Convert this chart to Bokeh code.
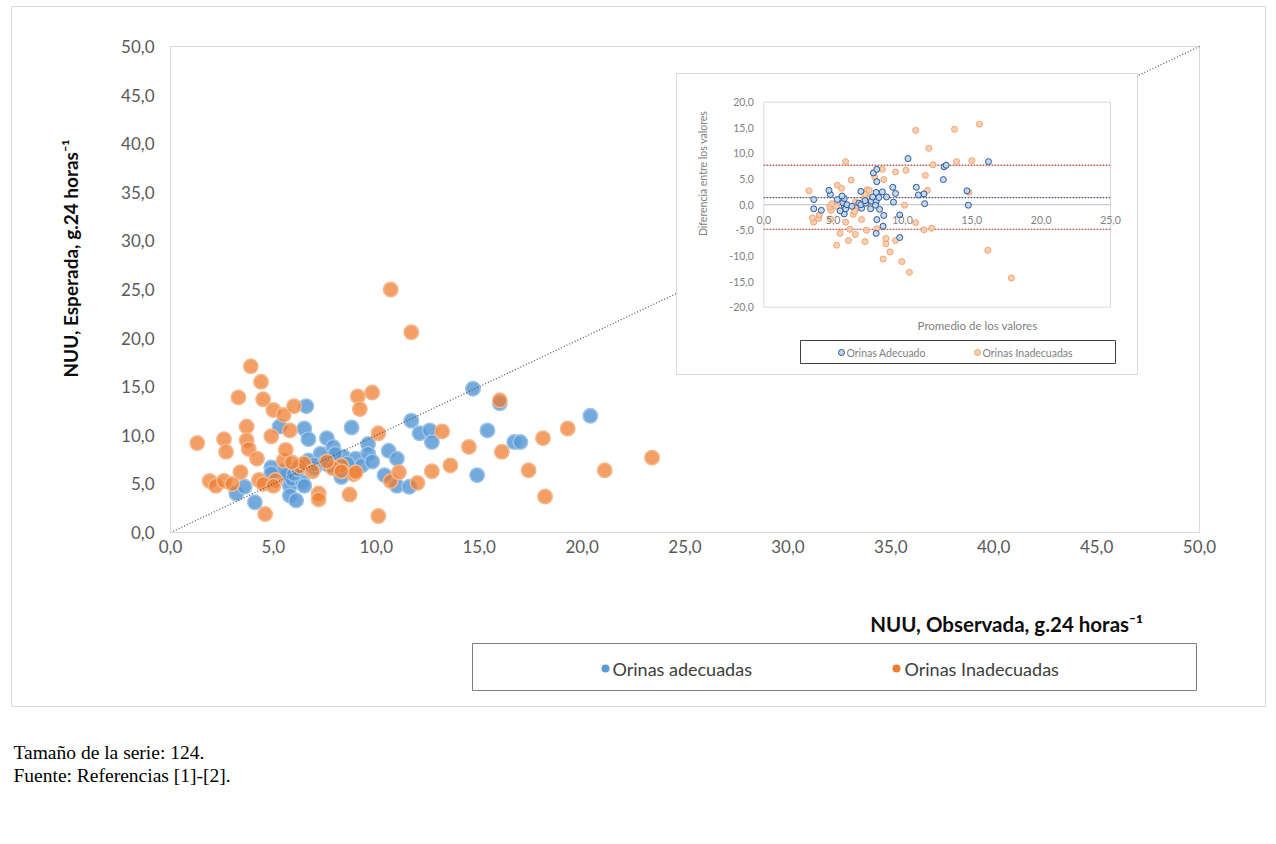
import math
from bokeh.plotting import figure
from bokeh.models import Range1d, FixedTicker
from bokeh.core.properties import value
from bokeh.embed import file_html
from bokeh.resources import INLINE

# ---------------- data ----------------
series_names = ["Orinas adecuadas", "Orinas Inadecuadas"]
inset_series_names = ["Orinas Adecuado", "Orinas Inadecuadas"]

adec_obs = [3.2, 3.6, 4.1, 4.9, 5.3, 5.7, 5.8, 5.8, 6.1, 5.9, 6.4, 6.5, 6.6, 6.7, 6.7, 7.0, 6.5,
            7.3, 7.6, 7.9, 8.1, 8.4, 8.3, 8.8, 9.0, 9.3, 9.6, 9.6, 10.4, 10.6, 11.0, 11.0, 11.6,
            11.7, 12.1, 12.6, 12.7, 14.7, 15.4, 14.9, 16.7, 17.0, 20.4, 16.0, 5.5, 6.0, 6.2, 7.0,
            7.5, 7.7, 8.0, 8.6, 4.9, 9.8]
adec_exp = [4.0, 4.7, 3.1, 6.7, 10.9, 5.9, 4.8, 3.8, 3.3, 5.5, 5.2, 10.7, 13.0, 9.6, 7.4, 6.7, 4.8,
            8.1, 9.7, 8.8, 7.4, 7.8, 5.7, 10.8, 7.6, 6.9, 9.1, 8.1, 5.9, 8.4, 7.6, 4.8, 4.7,
            11.5, 10.2, 10.5, 9.3, 14.8, 10.5, 5.9, 9.3, 9.3, 12.0, 13.3, 6.3, 6.0, 6.5, 7.0,
            7.2, 6.9, 8.1, 7.1, 6.1, 7.3]

inad_obs = [1.3, 1.9, 2.2, 2.6, 2.6, 2.7, 3.3, 3.4, 3.7, 3.7, 3.8, 3.9, 4.2, 4.3, 4.4, 4.5, 4.6,
            5.0, 4.9, 5.1, 5.5, 5.5, 5.6, 5.8, 6.0, 6.3, 6.5, 7.2, 7.2, 8.3, 8.7, 8.9, 9.1, 9.8,
            9.2, 9.0, 10.1, 10.1, 10.7, 11.7, 10.7, 11.1, 12.0, 12.7, 13.2, 13.6, 14.5, 16.0,
            16.1, 17.4, 18.1, 18.2, 19.3, 21.1, 23.4, 5.9, 7.9, 6.9, 4.5, 5.0, 3.0, 7.6, 8.3]
inad_exp = [9.2, 5.3, 4.8, 5.3, 9.6, 8.3, 13.9, 6.2, 10.9, 9.5, 8.6, 17.1, 7.6, 5.4, 15.5, 13.7, 1.9,
            12.6, 9.9, 5.4, 12.1, 7.4, 8.5, 10.5, 13.0, 6.8, 7.1, 4.0, 3.4, 6.9, 3.9, 6.0, 14.0, 14.4,
            12.7, 6.2, 10.2, 1.7, 25.0, 20.6, 5.3, 6.2, 5.1, 6.3, 10.4, 6.9, 8.8, 13.6,
            8.3, 6.4, 9.7, 3.7, 10.7, 6.4, 7.7, 7.2, 6.6, 6.3, 5.0, 4.8, 5.0, 7.3, 6.3]

identity_x = [0, 50]
identity_y = [0, 50]

x_ticks = [0, 5, 10, 15, 20, 25, 30, 35, 40, 45, 50]
x_tick_labels = ["0,0", "5,0", "10,0", "15,0", "20,0", "25,0", "30,0", "35,0", "40,0", "45,0", "50,0"]
y_ticks = [0, 5, 10, 15, 20, 25, 30, 35, 40, 45, 50]
y_tick_labels = ["0,0", "5,0", "10,0", "15,0", "20,0", "25,0", "30,0", "35,0", "40,0", "45,0", "50,0"]

inset_x_ticks = [0, 5, 10, 15, 20, 25]
inset_x_tick_labels = ["0,0", "5,0", "10,0", "15,0", "20,0", "25,0"]
inset_y_ticks = [20, 15, 10, 5, 0, -5, -10, -15, -20]
inset_y_tick_labels = ["20,0", "15,0", "10,0", "5,0", "0,0", "-5,0", "-10,0", "-15,0", "-20,0"]

inset_mean_diff = 1.4
inset_upper_loa = 7.7
inset_lower_loa = -4.8

# Bland-Altman values of the same two series
adec_avg = [(o + e) / 2 for o, e in zip(adec_obs, adec_exp)]
adec_diff = [o - e for o, e in zip(adec_obs, adec_exp)]
inad_avg = [(o + e) / 2 for o, e in zip(inad_obs, inad_exp)]
inad_diff = [o - e for o, e in zip(inad_obs, inad_exp)]

caption_lines = ["Tamaño de la serie: 124.", "Fuente: Referencias [1]-[2]."]
x_title = "NUU, Observada, g.24 horas\u207b\u00b9"
y_title = "NUU, Esperada, g.24 horas\u207b\u00b9"

# ---------------- page geometry ----------------
SHIFT = 75                 # canvas pushed left so that the axis side panels sit off-page
FX0, FX1 = 5, 1268         # frame extent on the page (x)
FY0, FY1 = 0, 800          # frame extent on the page (y)
W = FX1 + SHIFT
H = 840
ML, MR, MT, MB = 170, 1199, 46, 532   # main plot area on the page


def xd(px):
    return (px - ML) / (MR - ML) * 50.0


def yd(py):
    return (MB - py) / (MB - MT) * 50.0


IX0, IX25 = 763.3, 1110.0
IY20, IYm20 = 101.7, 306.7
IXU = (IX25 - IX0) / 25.0
IYU = (IYm20 - IY20) / 40.0
IY0 = IY20 + 20 * IYU


def ix(px):
    return (px - IX0) / IXU


def iy(py):
    return (IY0 - py) / IYU


FONT = "Lato"
BLUE = "#5b9bd5"
ORANGE = "#ed7d31"
GRID = "#d9d9d9"
INSET_TXT = "#808080"

p = figure(width=W, height=H,
           x_range=Range1d(xd(FX0), xd(FX1)), y_range=Range1d(yd(FY1), yd(FY0)),
           output_backend="svg", toolbar_location=None,
           min_border_left=SHIFT + FX0, min_border_right=0,
           min_border_top=FY0, min_border_bottom=H - FY1,
           margin=(0, 0, 0, -SHIFT))
p.extra_x_ranges = {"ix": Range1d(ix(FX0), ix(FX1)), "px": Range1d(FX0, FX1)}
p.extra_y_ranges = {"iy": Range1d(iy(FY1), iy(FY0)), "py": Range1d(FY1, FY0)}
PG = dict(x_range_name="px", y_range_name="py")
R = dict(x_range_name="ix", y_range_name="iy")

p.xgrid.visible = False
p.ygrid.visible = False
p.outline_line_color = None
p.background_fill_color = "white"
p.border_fill_color = "white"

for ax, ticks, labels in ((p.xaxis[0], x_ticks, x_tick_labels), (p.yaxis[0], y_ticks, y_tick_labels)):
    ax.ticker = FixedTicker(ticks=ticks)
    ax.major_label_overrides = {t: l for t, l in zip(ticks, labels)}
    ax.fixed_location = 0
    ax.bounds = (ticks[0], ticks[-1])
    ax.major_tick_line_color = None
    ax.minor_tick_line_color = None
    ax.major_tick_out = 0
    ax.major_tick_in = 0
    ax.axis_line_color = GRID
    ax.major_label_text_color = "#595959"
    ax.major_label_text_font = FONT
    ax.major_label_text_font_size = "17px"
p.xaxis.major_label_standoff = 7
p.yaxis.major_label_standoff = 16

# chart-area border and plot-area border
p.quad(left=11, right=1265, top=6, bottom=706, fill_color=None, line_color=GRID, line_width=1, **PG)
p.quad(left=x_ticks[0], right=x_ticks[-1], bottom=y_ticks[0], top=y_ticks[-1],
       fill_color=None, line_color=GRID, line_width=1)

# main scatter
p.scatter(adec_obs, adec_exp, size=14.5, fill_color=BLUE, fill_alpha=0.85,
          line_color="#9cc3e8", line_width=1.5)
p.scatter(inad_obs, inad_exp, size=14.5, fill_color=ORANGE, fill_alpha=0.75,
          line_color="#f5b88e", line_width=1.5)

# identity line
p.line(identity_x, identity_y, line_color="#595959", line_dash="1 2", line_width=1.3)

# ---------------- inset (Bland-Altman) ----------------
p.quad(left=676, right=1137, top=73, bottom=374, fill_color="white", line_color=GRID, line_width=1, **PG)
p.quad(left=inset_x_ticks[0], right=inset_x_ticks[-1], top=inset_y_ticks[0], bottom=inset_y_ticks[-1],
       fill_color=None, line_color=GRID, line_width=1, **R)
p.line([inset_x_ticks[0], inset_x_ticks[-1]], [0, 0], line_color="#bfbfbf", line_width=1, **R)

for yv, c1, c2 in ((inset_upper_loa, "#f3b9b9", "#b04848"),
                   (inset_lower_loa, "#f3b9b9", "#b04848"),
                   (inset_mean_diff, "#c9c9d6", "#2f3a5f")):
    p.line([inset_x_ticks[0], inset_x_ticks[-1]], [yv, yv], line_color=c1, line_width=1, **R)
    p.line([inset_x_ticks[0], inset_x_ticks[-1]], [yv, yv], line_color=c2, line_width=1.3,
           line_dash="1 2", **R)

p.scatter(inad_avg, inad_diff, size=6, fill_color="#f8cbad", fill_alpha=0.9,
          line_color="#f1a46e", line_width=1, **R)
p.scatter(adec_avg, adec_diff, size=6, fill_color="#bdd7ee", fill_alpha=0.9,
          line_color="#2f5597", line_width=1, **R)

p.text(x=[inset_x_ticks[0]] * len(inset_y_ticks), y=inset_y_ticks, text=inset_y_tick_labels,
       x_offset=-10, text_align="right", text_baseline="middle", text_font=value(FONT),
       text_font_size="10.5px", text_color=INSET_TXT, **R)
p.text(x=inset_x_ticks, y=[0] * len(inset_x_ticks), text=inset_x_tick_labels,
       y_offset=15, text_align="center", text_baseline="middle", text_font=value(FONT),
       text_font_size="10.5px", text_color=INSET_TXT, **R)
p.text(x=[702], y=[173], text=["Diferencia entre los valores"], angle=math.pi / 2,
       text_align="center", text_baseline="middle", text_font=value(FONT),
       text_font_size="10.5px", text_color=INSET_TXT, **PG)
p.text(x=[977], y=[325], text=["Promedio de los valores"],
       text_align="center", text_baseline="middle", text_font=value(FONT),
       text_font_size="11.5px", text_color=INSET_TXT, **PG)
p.quad(left=800, right=1115, top=340, bottom=363, fill_color=None, line_color="#404040",
       line_width=1, **PG)
p.scatter([841, 977], [352, 352], size=6, fill_color=["#bdd7ee", "#f8cbad"],
          line_color=["#2f5597", "#f1a46e"], **PG)
p.text(x=[846, 982], y=[352, 352], text=inset_series_names,
       text_align="left", text_baseline="middle", text_font=value(FONT),
       text_font_size="10.5px", text_color=INSET_TXT, **PG)

# ---------------- titles, legend, caption ----------------
p.text(x=[70], y=[258], text=[y_title], angle=math.pi / 2, text_align="center",
       text_baseline="middle", text_font=value(FONT), text_font_size="19px",
       text_font_style="bold", text_color="#0d0d0d", **PG)
p.text(x=[1006], y=[623], text=[x_title], text_align="center",
       text_baseline="middle", text_font=value(FONT), text_font_size="20.5px",
       text_font_style="bold", text_color="#0d0d0d", **PG)

p.quad(left=472, right=1196, top=643, bottom=690, fill_color=None, line_color="#7f7f7f",
       line_width=1, **PG)
p.scatter([605, 896], [668, 668], size=8, fill_color=[BLUE, ORANGE], line_color=None, **PG)
p.text(x=[612, 904], y=[668, 668], text=series_names, text_align="left", text_baseline="middle",
       text_font=value(FONT), text_font_size="18px", text_color="#404040", **PG)

p.text(x=[13, 13], y=[752, 775], text=caption_lines, text_align="left", text_baseline="middle",
       text_font=value("Liberation Serif"), text_font_size="19.5px", text_color="black", **PG)

open("out.html", "w").write(file_html(p, INLINE))
